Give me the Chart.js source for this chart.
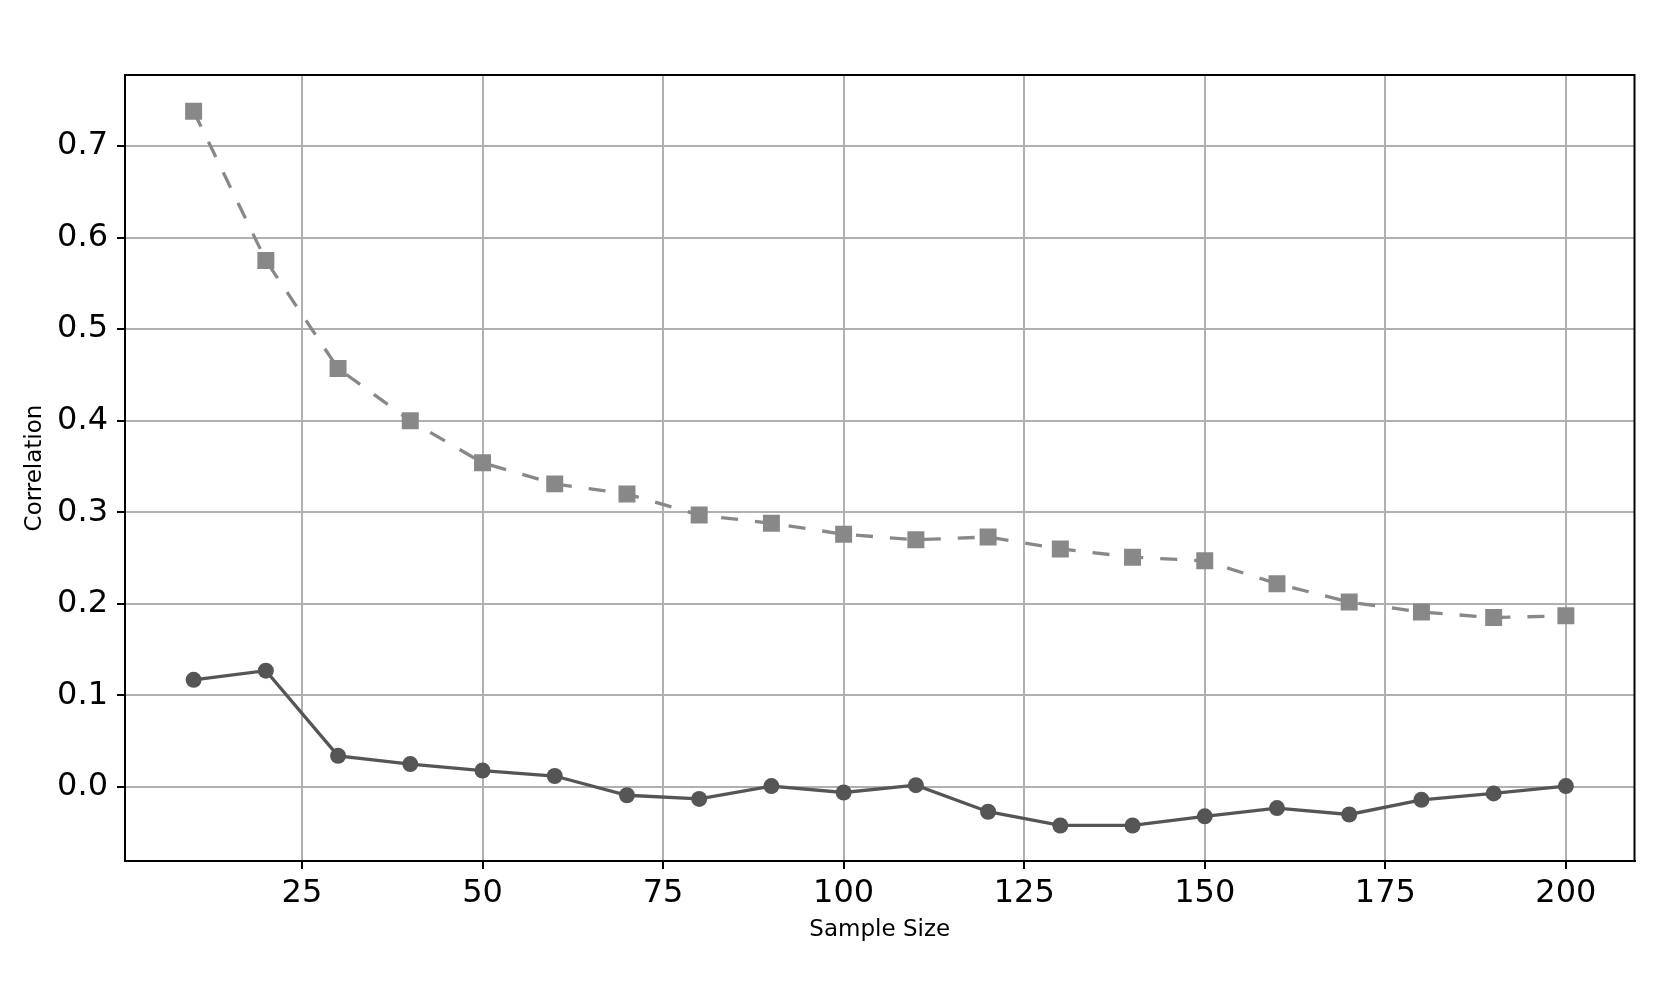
<!DOCTYPE html>
<html>
<head>
<meta charset="utf-8">
<script src="https://cdn.jsdelivr.net/npm/chart.js@4"></script>
<style>
  html, body { margin: 0; padding: 0; background: #fff; }
  #wrap { width: 1661px; height: 997px; }
</style>
</head>
<body>
<div id="wrap"><canvas id="chart" width="1661" height="997"></canvas></div>
<script>
// Data
const sampleSizes = [10, 20, 30, 40, 50, 60, 70, 80, 90, 100, 110, 120, 130, 140, 150, 160, 170, 180, 190, 200];
const upperSeries = [0.738, 0.575, 0.457, 0.400, 0.354, 0.331, 0.320, 0.297, 0.288, 0.276, 0.270, 0.273, 0.260, 0.251, 0.247, 0.222, 0.202, 0.191, 0.185, 0.187];
const lowerSeries = [0.117, 0.127, 0.034, 0.025, 0.018, 0.012, -0.009, -0.013, 0.001, -0.006, 0.002, -0.027, -0.042, -0.042, -0.032, -0.023, -0.030, -0.014, -0.007, 0.001];
const xTicks = [25, 50, 75, 100, 125, 150, 175, 200];
const yTicks = [0.0, 0.1, 0.2, 0.3, 0.4, 0.5, 0.6, 0.7];

const toPoints = vals => vals.map((v, i) => ({ x: sampleSizes[i], y: v }));

// draw the full box around the plot area (top/right spines)
const frame = {
  id: 'frame',
  afterDraw(chart) {
    const { ctx, chartArea: a } = chart;
    ctx.save();
    ctx.strokeStyle = '#000';
    ctx.lineWidth = 2;
    ctx.strokeRect(a.left, a.top, a.right - a.left, a.bottom - a.top);
    ctx.restore();
  }
};

const ctx = document.getElementById('chart').getContext('2d');
new Chart(ctx, {
  type: 'line',
  data: {
    datasets: [
      {
        data: toPoints(upperSeries),
        borderColor: '#888888',
        backgroundColor: '#888888',
        borderWidth: 3.3,
        borderDash: [17, 17],
        pointStyle: 'rect',
        pointRadius: 12,
        pointBorderWidth: 0,
        fill: false,
        tension: 0
      },
      {
        data: toPoints(lowerSeries),
        borderColor: '#555555',
        backgroundColor: '#555555',
        borderWidth: 3.3,
        pointStyle: 'circle',
        pointRadius: 8,
        pointBorderWidth: 0,
        fill: false,
        tension: 0
      }
    ]
  },
  options: {
    responsive: false,
    animation: false,
    layout: { padding: { top: 75, right: 26.5, left: 0, bottom: 0 } },
    plugins: { legend: { display: false }, tooltip: { enabled: false } },
    scales: {
      x: {
        type: 'linear',
        min: 0.5,
        max: 209.5,
        afterBuildTicks: s => { s.ticks = xTicks.map(v => ({ value: v })); },
        afterFit: s => { s.height = 136; },
        grid: { color: '#b0b0b0', lineWidth: 2, tickLength: 8, tickColor: '#000', tickWidth: 2 },
        border: { color: '#000', width: 2 },
        ticks: {
          color: '#000',
          padding: 5,
          maxRotation: 0,
          font: { family: 'DejaVu Sans', size: 32 }
        },
        title: {
          display: true,
          text: 'Sample Size',
          color: '#000',
          padding: { top: 0, bottom: 53 },
          font: { family: 'DejaVu Sans', size: 23 }
        }
      },
      y: {
        type: 'linear',
        min: -0.0808,
        max: 0.7775,
        afterBuildTicks: s => { s.ticks = yTicks.map(v => ({ value: v })); },
        afterFit: s => { s.width = 125; },
        grid: { color: '#b0b0b0', lineWidth: 2, tickLength: 8, tickColor: '#000', tickWidth: 2 },
        border: { color: '#000', width: 2 },
        ticks: {
          color: '#000',
          padding: 9,
          callback: v => v.toFixed(1),
          font: { family: 'DejaVu Sans', size: 32 }
        },
        title: {
          display: true,
          text: 'Correlation',
          color: '#000',
          padding: { top: 21, bottom: 0 },
          font: { family: 'DejaVu Sans', size: 23 }
        }
      }
    }
  },
  plugins: [frame]
});
</script>
</body>
</html>
